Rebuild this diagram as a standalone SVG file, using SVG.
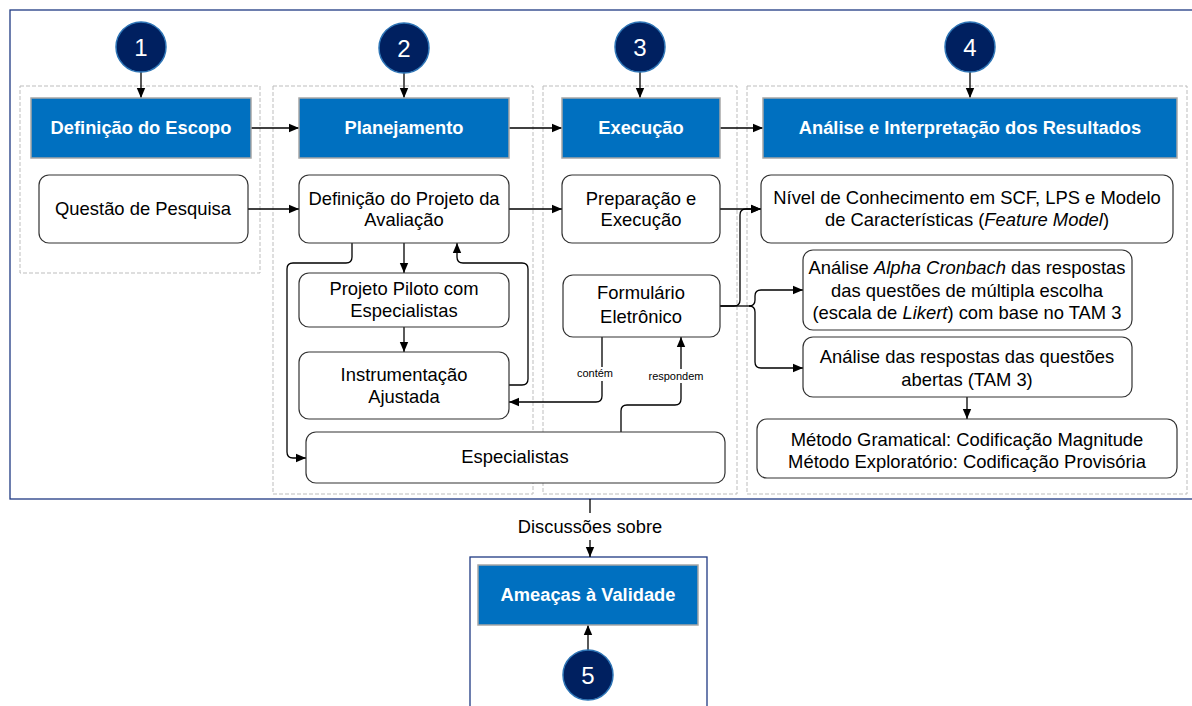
<svg xmlns="http://www.w3.org/2000/svg" width="1192" height="706" viewBox="0 0 1192 706">
  <defs>
    <marker id="arrow" markerUnits="userSpaceOnUse" markerWidth="10" markerHeight="10" viewBox="0 0 10 10" refX="10" refY="5" orient="auto">
      <path d="M0,0.8 L10,5 L0,9.2 z" fill="#000"/>
    </marker>
    <style>
      text { font-family: "Liberation Sans", Arial, sans-serif; }
      .frame { fill: none; stroke: #1F3A83; stroke-width: 1.3; }
      .lane { fill: none; stroke: #BDBDBD; stroke-width: 1; stroke-dasharray: 4 2; }
      .head rect { fill: #0070C0; stroke: #A6A6A6; stroke-width: 1.5; }
      .head text { fill: #fff; font-size: 18.3px; font-weight: bold; text-anchor: middle; }
      .box rect { fill: #fff; stroke: #333; stroke-width: 1.2; }
      .box text { fill: #000; font-size: 18.4px; text-anchor: middle; }
      .step circle { fill: #002060; stroke: #2E75B6; stroke-width: 1.5; }
      .step text { fill: #fff; font-size: 24px; text-anchor: middle; }
      .conn path { fill: none; stroke: #000; stroke-width: 1.3; }
      .conn .arr { marker-end: url(#arrow); }
      .lbl rect { fill: #fff; }
      .lbl text { font-size: 11px; text-anchor: middle; fill: #000; }
      .note { font-size: 18.3px; text-anchor: middle; fill: #000; }
    </style>
  </defs>

  <rect width="1192" height="706" fill="#fff"/>

  <!-- outer frame and threats frame -->
  <rect class="frame" x="10" y="10" width="1190" height="489"/>
  <rect class="frame" x="470" y="557" width="237" height="170" stroke="#3A5296"/>

  <!-- dashed lanes -->
  <rect class="lane" x="20" y="86" width="240" height="187"/>
  <rect class="lane" x="273" y="86" width="260" height="408"/>
  <rect class="lane" x="543" y="86" width="194" height="408"/>
  <rect class="lane" x="747" y="86" width="440" height="408"/>

  <!-- connectors -->
  <g id="connectors" class="conn">
    <path class="arr" d="M141,72 V98"/>
    <path class="arr" d="M404,73 V98"/>
    <path class="arr" d="M640,72 V98"/>
    <path class="arr" d="M970,72 V98"/>
    <path class="arr" d="M251,128 H299"/>
    <path class="arr" d="M509,128 H562"/>
    <path class="arr" d="M720,128 H763"/>
    <path class="arr" d="M248,209 H299"/>
    <path class="arr" d="M509,209 H562"/>
    <path class="arr" d="M720,209 H761"/>
    <path class="arr" d="M720,306 H734 Q740,306 740,300 V215 Q740,209 746,209 H761"/>
    <path d="M720,306 H749"/>
    <path class="arr" d="M749,306 Q755,306 755,300 V296 Q755,290 761,290 H803"/>
    <path class="arr" d="M749,306 Q755,306 755,312 V362 Q755,368 761,368 H803"/>
    <path class="arr" d="M404,243 V273"/>
    <path class="arr" d="M404,327 V352"/>
    <path class="arr" d="M509,385 H522 Q528,385 528,379 V269 Q528,263 522,263 H463 Q457,263 457,257 V243"/>
    <path class="arr" d="M352,243 V257 Q352,263 346,263 H293 Q287,263 287,269 V452 Q287,458 293,458 H306"/>
    <path class="arr" d="M602,337 V396 Q602,402 596,402 H509"/>
    <path class="arr" d="M621,432 V411 Q621,405 627,405 H675 Q681,405 681,399 V337"/>
    <path class="arr" d="M967,397 V419"/>
    <path d="M590,499 V513"/>
    <path class="arr" d="M590,540 V557"/>
    <path class="arr" d="M588,650 V625"/>
    <g class="lbl">
      <rect x="575" y="367" width="40" height="14"/>
      <text x="595" y="377">contém</text>
      <rect x="647" y="369" width="58" height="14"/>
      <text x="676" y="380">respondem</text>
    </g>
    <text class="note" x="590" y="533">Discussões sobre</text>
  </g>

  <!-- step markers -->
  <g id="step1" class="step"><circle cx="141" cy="47" r="25"/><text x="141" y="56">1</text></g>
  <g id="step2" class="step"><circle cx="404" cy="48" r="25"/><text x="404" y="57">2</text></g>
  <g id="step3" class="step"><circle cx="640" cy="47" r="25"/><text x="640" y="56">3</text></g>
  <g id="step4" class="step"><circle cx="970" cy="47" r="25"/><text x="970" y="56">4</text></g>
  <g id="step5" class="step"><circle cx="588" cy="675" r="25"/><text x="588" y="684">5</text></g>

  <!-- phase headers -->
  <g id="h-escopo" class="head"><rect x="31" y="98" width="220" height="60"/><text x="141" y="134">Definição do Escopo</text></g>
  <g id="h-planejamento" class="head"><rect x="299" y="98" width="210" height="60"/><text x="404" y="134">Planejamento</text></g>
  <g id="h-execucao" class="head"><rect x="562" y="98" width="158" height="60"/><text x="641" y="134">Execução</text></g>
  <g id="h-analise" class="head"><rect x="763" y="98" width="414" height="60"/><text x="970" y="134">Análise e Interpretação dos Resultados</text></g>
  <g id="h-ameacas" class="head"><rect x="478" y="565" width="220" height="60"/><text x="588" y="601">Ameaças à Validade</text></g>

  <!-- activity boxes -->
  <g id="questao" class="box"><rect x="39" y="175" width="209" height="68" rx="10"/><text x="143" y="215">Questão de Pesquisa</text></g>
  <g id="definicao" class="box"><rect x="299" y="175" width="210" height="68" rx="10"/>
    <text x="404" y="205">Definição do Projeto da</text><text x="404" y="226">Avaliação</text></g>
  <g id="piloto" class="box"><rect x="299" y="273" width="210" height="54" rx="10"/>
    <text x="404" y="295">Projeto Piloto com</text><text x="404" y="317">Especialistas</text></g>
  <g id="instrumentacao" class="box"><rect x="299" y="352" width="210" height="67" rx="10"/>
    <text x="404" y="381">Instrumentação</text><text x="404" y="403">Ajustada</text></g>
  <g id="especialistas" class="box"><rect x="306" y="432" width="419" height="51" rx="10"/>
    <text x="515" y="463">Especialistas</text></g>
  <g id="preparacao" class="box"><rect x="562" y="175" width="158" height="68" rx="10"/>
    <text x="641" y="205">Preparação e</text><text x="641" y="226">Execução</text></g>
  <g id="formulario" class="box"><rect x="563" y="275" width="157" height="62" rx="10"/>
    <text x="641" y="299">Formulário</text><text x="641" y="323">Eletrônico</text></g>
  <g id="nivel" class="box"><rect x="761" y="175" width="412" height="68" rx="10"/>
    <text x="967" y="204">Nível de Conhecimento em SCF, LPS e Modelo</text>
    <text x="967" y="226">de Características (<tspan font-style="italic">Feature Model</tspan>)</text></g>
  <g id="alpha" class="box"><rect x="803" y="250" width="329" height="80" rx="10"/>
    <text x="967" y="274">Análise <tspan font-style="italic">Alpha Cronbach</tspan> das respostas</text>
    <text x="967" y="297">das questões de múltipla escolha</text>
    <text x="967" y="319">(escala de <tspan font-style="italic">Likert</tspan>) com base no TAM 3</text></g>
  <g id="abertas" class="box"><rect x="803" y="337" width="329" height="60" rx="10"/>
    <text x="967" y="363">Análise das respostas das questões</text>
    <text x="967" y="386">abertas (TAM 3)</text></g>
  <g id="metodo" class="box"><rect x="757" y="419" width="420" height="59" rx="10"/>
    <text x="967" y="446">Método Gramatical: Codificação Magnitude</text>
    <text x="967" y="468">Método Exploratório: Codificação Provisória</text></g>
</svg>
